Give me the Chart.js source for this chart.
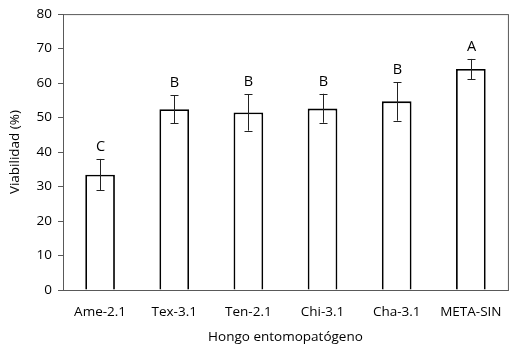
<!DOCTYPE html>
<html>
<head>
  <title>Viabilidad por hongo entomopatógeno</title>
  <script src="https://cdn.jsdelivr.net/npm/chart.js"></script>
  <style>
    body { margin: 0; background: #fff; }
    #wrap { width: 516px; height: 349px; }
  </style>
</head>
<body>
  <div id="wrap"><canvas id="chart" width="516" height="349"></canvas></div>

  <script>
    const hongos = ['Ame-2.1', 'Tex-3.1', 'Ten-2.1', 'Chi-3.1', 'Cha-3.1', 'META-SIN'];
    const viabilidad = [33.4, 52.4, 51.5, 52.6, 54.7, 64.1];
    const errorBajo = [29.0, 48.4, 46.2, 48.5, 49.1, 61.1];
    const errorAlto = [38.0, 56.4, 56.8, 56.9, 60.2, 67.0];
    const letras = ['C', 'B', 'B', 'B', 'B', 'A'];

    const font = "'Open Sans', sans-serif";
    const axisColor = '#595959';

    // error bars, group letters and the box round the plot
    const extras = {
      id: 'extras',
      afterDatasetsDraw(chart) {
        const ctx = chart.ctx;
        const x = chart.scales.x, y = chart.scales.y;
        const area = chart.chartArea;
        ctx.save();
        ctx.strokeStyle = axisColor;
        ctx.lineWidth = 1;
        ctx.strokeRect(area.left + 0.5, area.top + 0.5, area.right - area.left, area.bottom - area.top);

        ctx.strokeStyle = '#222';
        hongos.forEach((h, i) => {
          const cx = Math.round(x.getPixelForValue(i)) + 0.5;
          const lo = y.getPixelForValue(errorBajo[i]);
          const hi = y.getPixelForValue(errorAlto[i]);
          ctx.beginPath();
          ctx.moveTo(cx, lo); ctx.lineTo(cx, hi);
          ctx.moveTo(cx - 4, Math.round(lo) + 0.5); ctx.lineTo(cx + 4, Math.round(lo) + 0.5);
          ctx.moveTo(cx - 4, Math.round(hi) + 0.5); ctx.lineTo(cx + 4, Math.round(hi) + 0.5);
          ctx.stroke();

          ctx.fillStyle = '#000';
          ctx.font = '14.5px ' + font;
          ctx.textAlign = 'center';
          ctx.textBaseline = 'alphabetic';
          ctx.fillText(letras[i], cx, hi - 8);
        });
        ctx.restore();
      }
    };

    new Chart(document.getElementById('chart'), {
      type: 'bar',
      data: {
        labels: hongos,
        datasets: [{
          data: viabilidad,
          backgroundColor: '#fff',
          borderColor: '#000',
          borderWidth: 1.8,
          barPercentage: 0.4,
          categoryPercentage: 1
        }]
      },
      options: {
        responsive: false,
        animation: false,
        layout: { padding: { top: 14, right: 6, left: 0, bottom: 0 } },
        plugins: { legend: { display: false }, tooltip: { enabled: false } },
        scales: {
          x: {
            grid: { display: false, drawTicks: false },
            border: { color: axisColor },
            ticks: { color: '#000', font: { family: font, size: 13.5 }, padding: 14, maxRotation: 0 },
            title: { display: true, text: 'Hongo entomopatógeno', color: '#000',
                     font: { family: font, size: 13.5 }, padding: { top: 7 } },
            afterFit(scale) { scale.height = 59; }
          },
          y: {
            min: 0, max: 80,
            ticks: { stepSize: 10, color: '#000', font: { family: font, size: 13.5 }, padding: 6 },
            grid: { drawOnChartArea: false, tickLength: 5, color: axisColor },
            border: { color: axisColor },
            title: { display: true, text: 'Viabilidad (%)', color: '#000',
                     font: { family: font, size: 13.5 }, padding: { top: 7, bottom: 0 } },
            afterFit(scale) { scale.width = 63; }
          }
        }
      },
      plugins: [extras]
    });
  </script>
</body>
</html>
